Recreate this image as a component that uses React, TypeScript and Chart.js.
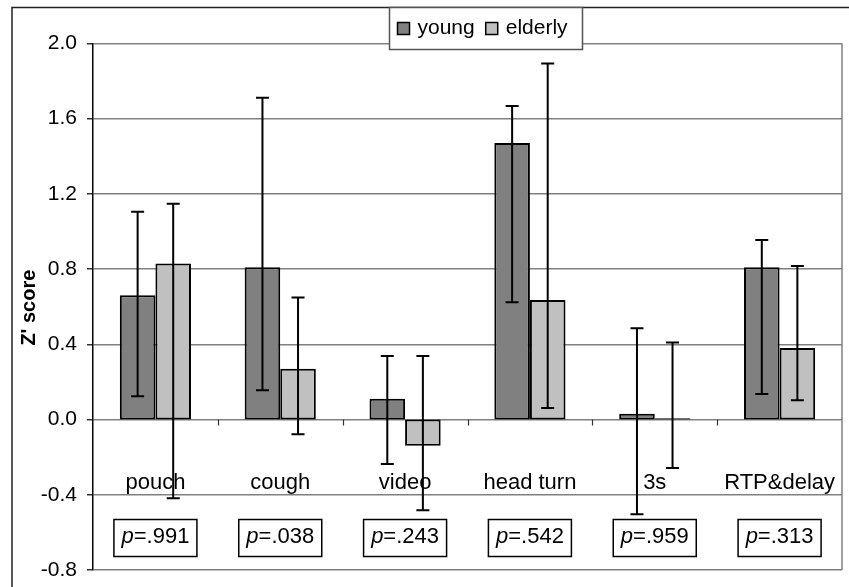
import React, { useEffect, useRef } from 'react';
import { Chart, registerables } from 'chart.js';

Chart.register(...registerables);

const categories = ['pouch', 'cough', 'video', 'head turn', '3s', 'RTP&delay'];
const seriesNames = ['young', 'elderly'];
const youngValues = [0.66, 0.81, 0.11, 1.47, 0.03, 0.81];
const elderlyValues = [0.83, 0.27, -0.14, 0.635, 0.007, 0.38];
const youngHigh = [1.105, 1.71, 0.337, 1.667, 0.485, 0.954];
const youngLow = [0.124, 0.156, -0.236, 0.624, -0.503, 0.135];
const elderlyHigh = [1.147, 0.649, 0.337, 1.892, 0.41, 0.816];
const elderlyLow = [-0.418, -0.078, -0.482, 0.061, -0.258, 0.103];
const pValues = ['.991', '.038', '.243', '.542', '.959', '.313'];
const yTitle = "Z' score";

const FONT = '"Liberation Sans", Arial, Helvetica, sans-serif';

export default function App() {
  const ref = useRef<HTMLCanvasElement>(null);

  useEffect(() => {
    const canvas = ref.current;
    if (!canvas) return;
    const errHigh = [youngHigh, elderlyHigh];
    const errLow = [youngLow, elderlyLow];

    const overlay = {
      id: 'overlay',
      afterDatasetsDraw(chart: any) {
        const ctx = chart.ctx;
        const xs = chart.scales.x;
        const ys = chart.scales.y;
        const area = chart.chartArea;
        ctx.save();
        // right border of plot area
        ctx.strokeStyle = '#808080';
        ctx.lineWidth = 1.5;
        ctx.beginPath();
        ctx.moveTo(area.right, area.top);
        ctx.lineTo(area.right, area.bottom);
        ctx.stroke();

        // category boundary tick marks on the zero line
        const y0 = ys.getPixelForValue(0);
        const half = (xs.getPixelForValue(1) - xs.getPixelForValue(0)) / 2;
        ctx.strokeStyle = '#333';
        ctx.lineWidth = 1.2;
        for (let i = 1; i < categories.length; i++) {
          const bx = Math.round(xs.getPixelForValue(i) - half) + 0.5;
          ctx.beginPath();
          ctx.moveTo(bx, y0);
          ctx.lineTo(bx, y0 + 6);
          ctx.stroke();
        }

        // category labels
        ctx.fillStyle = '#000';
        ctx.font = `22px ${FONT}`;
        ctx.textAlign = 'center';
        ctx.textBaseline = 'alphabetic';
        categories.forEach((c, i) => {
          ctx.fillText(c, xs.getPixelForValue(i), y0 + 69.5);
        });

        // p-value boxes
        const bw = 83;
        const bh = 37;
        const cy = y0 + 118.5;
        categories.forEach((_, i) => {
          const cx = xs.getPixelForValue(i);
          ctx.fillStyle = '#fff';
          ctx.fillRect(cx - bw / 2, cy - bh / 2, bw, bh);
          ctx.strokeStyle = '#000';
          ctx.lineWidth = 1.5;
          ctx.strokeRect(cx - bw / 2, cy - bh / 2, bw, bh);
          const pPart = 'p';
          const rest = '=' + pValues[i];
          ctx.font = `italic 22px ${FONT}`;
          const w1 = ctx.measureText(pPart).width;
          ctx.font = `22px ${FONT}`;
          const w2 = ctx.measureText(rest).width;
          const sx = cx - (w1 + w2) / 2;
          ctx.fillStyle = '#000';
          ctx.textAlign = 'left';
          ctx.font = `italic 22px ${FONT}`;
          ctx.fillText(pPart, sx, cy + 5);
          ctx.font = `22px ${FONT}`;
          ctx.fillText(rest, sx + w1, cy + 5);
        });

        // error bars
        ctx.strokeStyle = '#000';
        ctx.lineWidth = 2;
        for (let d = 0; d < 2; d++) {
          const meta = chart.getDatasetMeta(d);
          meta.data.forEach((bar: any, i: number) => {
            const bx = bar.x;
            const yh = ys.getPixelForValue(errHigh[d][i]);
            const yl = ys.getPixelForValue(errLow[d][i]);
            ctx.beginPath();
            ctx.moveTo(bx, yh);
            ctx.lineTo(bx, yl);
            ctx.moveTo(bx - 6.5, yh);
            ctx.lineTo(bx + 6.5, yh);
            ctx.moveTo(bx - 6.5, yl);
            ctx.lineTo(bx + 6.5, yl);
            ctx.stroke();
          });
        }
        ctx.restore();
      },
      afterDraw(chart: any) {
        const ctx = chart.ctx;
        const area = chart.chartArea;
        ctx.save();
        // outer frame
        ctx.strokeStyle = '#222';
        ctx.lineWidth = 1.5;
        ctx.strokeRect(12, 7.5, 900, 700);

        // y axis title
        ctx.fillStyle = '#000';
        ctx.font = `bold 20px ${FONT}`;
        ctx.textAlign = 'center';
        ctx.textBaseline = 'middle';
        ctx.translate(29.5, (area.top + area.bottom) / 2 + 1);
        ctx.rotate(-Math.PI / 2);
        ctx.fillText(yTitle, 0, 0);
        ctx.restore();

        // legend
        ctx.save();
        const lx = 389.5;
        const ly = 7.5;
        const lw = 193;
        const lh = 42;
        ctx.fillStyle = '#fff';
        ctx.fillRect(lx, ly, lw, lh);
        ctx.strokeStyle = '#555';
        ctx.lineWidth = 1.5;
        ctx.strokeRect(lx, ly, lw, lh);
        ctx.font = `21px ${FONT}`;
        ctx.textAlign = 'left';
        ctx.textBaseline = 'alphabetic';
        let cx = lx + 8;
        chart.data.datasets.forEach((ds: any) => {
          ctx.fillStyle = ds.backgroundColor;
          ctx.fillRect(cx, 22.5, 12, 12);
          ctx.strokeStyle = '#000';
          ctx.lineWidth = 1.5;
          ctx.strokeRect(cx, 22.5, 12, 12);
          ctx.fillStyle = '#000';
          ctx.fillText(ds.label, cx + 20, 34);
          cx += 20 + ctx.measureText(ds.label).width + 11;
        });
        ctx.restore();
      },
    };

    const chart = new Chart(canvas, {
      type: 'bar',
      data: {
        labels: categories,
        datasets: [
          {
            label: seriesNames[0],
            data: youngValues,
            backgroundColor: '#808080',
            borderColor: '#000',
            borderWidth: 2,
            borderSkipped: false,
            categoryPercentage: 0.57,
            barPercentage: 1.0,
          },
          {
            label: seriesNames[1],
            data: elderlyValues,
            backgroundColor: '#C0C0C0',
            borderColor: '#000',
            borderWidth: 2,
            borderSkipped: false,
            categoryPercentage: 0.57,
            barPercentage: 1.0,
          },
        ],
      },
      options: {
        responsive: false,
        animation: false,
        events: [],
        layout: { padding: { top: 43.3, bottom: 17, left: 0, right: 7 } },
        plugins: {
          legend: { display: false },
          tooltip: { enabled: false },
          title: { display: false },
        },
        scales: {
          x: {
            display: false,
            offset: true,
            grid: { display: false },
          },
          y: {
            min: -0.8,
            max: 2.0,
            afterFit: (scale: any) => {
              scale.width = 93;
              scale.paddingTop = 0;
              scale.paddingBottom = 0;
            },
            ticks: {
              stepSize: 0.4,
              color: '#000',
              padding: 10,
              font: { family: FONT, size: 21 },
              callback: (v: any) => (Math.abs(Number(v)) < 1e-9 ? '0.0' : Number(v).toFixed(1)),
            },
            grid: {
              color: '#808080',
              lineWidth: 1.5,
              tickLength: 6,
              tickColor: '#333',
              drawTicks: true,
            },
            border: { display: true, color: '#000', width: 1.5 },
          },
        },
      },
      plugins: [overlay],
    });

    return () => chart.destroy();
  }, []);

  return (
    <div style={{ position: 'fixed', left: 0, top: 0, width: 849, height: 587, background: '#fff' }}>
      <canvas ref={ref} width={849} height={587} style={{ display: 'block' }} />
    </div>
  );
}
